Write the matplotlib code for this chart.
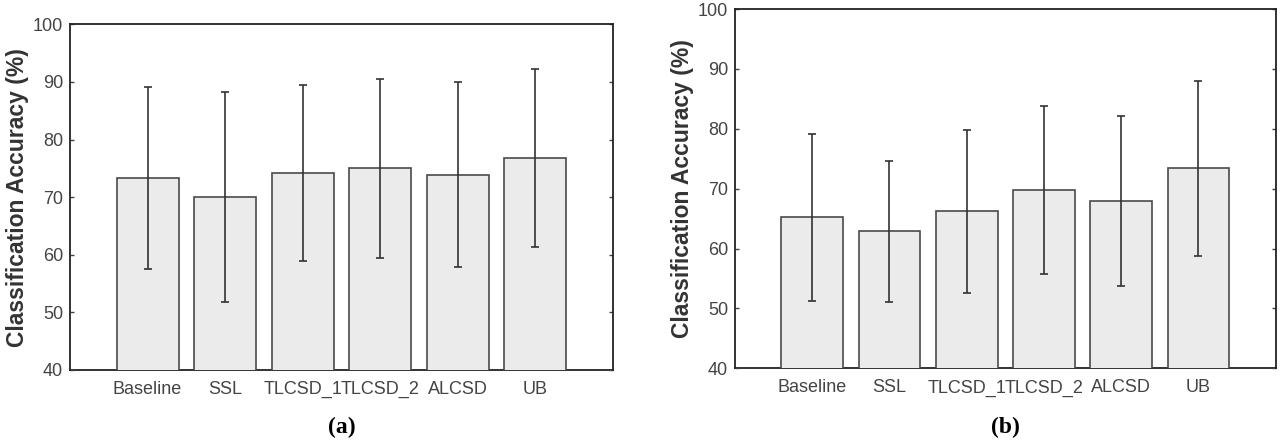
import matplotlib.pyplot as plt
import numpy as np

plt.rcParams['font.family'] = ['Liberation Sans', 'DejaVu Sans']

# Categories shared by both panels
methods = ['Baseline', 'SSL', 'TLCSD_1', 'TLCSD_2', 'ALCSD', 'UB']

# Panel (a): mean accuracy and standard deviation
acc_a = [73.4, 70.0, 74.2, 75.0, 73.9, 76.8]
std_a = [15.8, 18.2, 15.2, 15.5, 16.0, 15.5]

# Panel (b): mean accuracy and standard deviation
acc_b = [65.2, 62.9, 66.2, 69.8, 68.0, 73.4]
std_b = [14.0, 11.8, 13.6, 14.0, 14.2, 14.6]

yticks = [40, 50, 60, 70, 80, 90, 100]


def draw_panel(ax, acc, std, tag):
    x = np.arange(1, len(methods) + 1)
    ax.bar(x, acc, width=0.8, color='#ebebeb', edgecolor='#4a4a4a',
           linewidth=1.2, zorder=2)
    ax.errorbar(x, acc, yerr=std, fmt='none', ecolor='#333333',
                elinewidth=1.2, capsize=3, capthick=1.2, zorder=3)
    ax.set_xlim(0, 7)
    ax.set_ylim(40, 100)
    ax.set_yticks(yticks)
    ax.set_xticks(x)
    ax.set_xticklabels(methods)
    ax.tick_params(direction='in', length=3, width=1, colors='#444444',
                   labelsize=13, top=True, right=True, pad=5)
    ax.tick_params(axis='x', length=0, pad=8)
    for s in ax.spines.values():
        s.set_color('#222222')
        s.set_linewidth(1.3)
    ax.spines['bottom'].set_zorder(1)
    ax.set_ylabel('Classification Accuracy (%)', fontsize=16.5,
                  fontweight='bold', color='#333333', labelpad=3)
    ax.text(0.5, -0.165, tag, transform=ax.transAxes, ha='center',
            va='center', fontsize=17, fontweight='bold',
            family=['Liberation Serif', 'DejaVu Serif'])


fig = plt.figure(figsize=(12.87, 4.44), dpi=100)
ax1 = fig.add_axes([0.0544, 0.1667, 0.4217, 0.7786])
ax2 = fig.add_axes([0.5711, 0.1705, 0.4201, 0.8092])

draw_panel(ax1, acc_a, std_a, '(a)')
draw_panel(ax2, acc_b, std_b, '(b)')

fig.savefig('out.png', dpi=100)
